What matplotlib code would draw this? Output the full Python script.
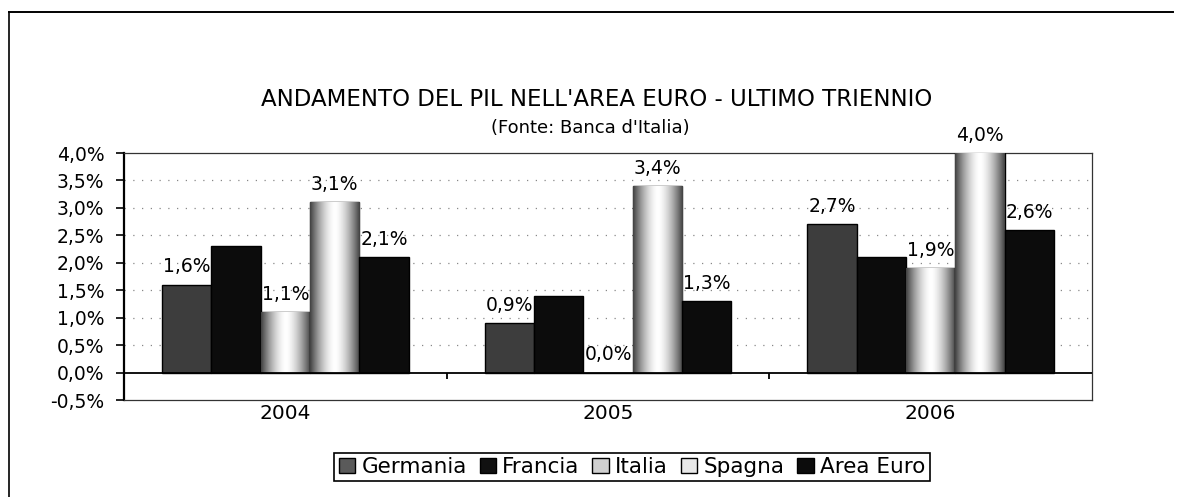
import numpy as np
import matplotlib
matplotlib.use("Agg")
import matplotlib.pyplot as plt
from matplotlib.patches import Patch
from matplotlib.lines import Line2D
from matplotlib.ticker import FuncFormatter, MultipleLocator

# data (GDP growth, %)
years = ["2004", "2005", "2006"]
countries = ["Germania", "Francia", "Italia", "Spagna", "Area Euro"]
germania = [1.6, 0.9, 2.7]
francia = [2.3, 1.4, 2.1]
italia = [1.1, 0.0, 1.9]
spagna = [3.1, 3.4, 4.0]
area_euro = [2.1, 1.3, 2.6]
# Francia labels are not shown in the original
show_labels = [True, False, True, True, True]

series = [germania, francia, italia, spagna, area_euro]
colors = ["#3d3d3d", "#0c0c0c", None, None, "#0c0c0c"]
legend_colors = ["#5a5a5a", "#111111", "#d0d0d0", "#e8e8e8", "#0c0c0c"]


def pct(v, _=None):
    return f"{v:.1f}%".replace(".", ",")


fig = plt.figure(figsize=(11.81, 4.97), dpi=100)
ax = fig.add_axes([124 / 1181, 1 - 400 / 497, (1092 - 124) / 1181, (400 - 153) / 497])

x = np.arange(len(years))
width = 0.153

# gradient used for the "cylinder" look of Italia and Spagna
prof = np.linspace(-1, 1, 200)
grad = (1 - 0.75 * np.abs(prof) ** 1.6)[None, :]

for i, (name, vals) in enumerate(zip(countries, series)):
    pos = x + (i - 2) * width
    if colors[i] is None:
        bars = ax.bar(pos, vals, width, facecolor="none", edgecolor="black",
                      linewidth=1.0, zorder=3)
        for b in bars:
            bx, by = b.get_x(), b.get_y()
            h = b.get_height()
            if h <= 0:
                continue
            im = ax.imshow(grad, cmap="gray", vmin=0, vmax=1, aspect="auto",
                           extent=(bx, bx + b.get_width(), by, by + h),
                           zorder=3, interpolation="bilinear")
            im.set_clip_path(b)
    else:
        bars = ax.bar(pos, vals, width, color=colors[i], edgecolor="black",
                      linewidth=1.0, zorder=3)
    if show_labels[i]:
        for p, v in zip(pos, vals):
            ax.annotate(pct(v), (p, v), xytext=(0, 6), textcoords="offset points",
                        ha="center", va="bottom", fontsize=13.5, zorder=3,
                        annotation_clip=False)

ax.set_xlim(-0.5, len(years) - 0.5)
ax.set_ylim(-0.5, 4.0)
ax.yaxis.set_major_locator(MultipleLocator(0.5))
ax.yaxis.set_major_formatter(FuncFormatter(pct))
ax.tick_params(axis="y", labelsize=13.5, length=6, width=1.2, direction="out", pad=8)

ax.set_xticks(x)
ax.set_xticklabels(years, fontsize=14.5)
ax.tick_params(axis="x", length=0, pad=3)

# dotted gridlines
for yv in np.arange(0.5, 4.0, 0.5):
    ax.axhline(yv, color="#888888", linestyle=(0, (1, 6)), linewidth=0.9, zorder=1)

# zero line with category separator ticks
ax.axhline(0, color="black", linewidth=1.3, zorder=4)
ax.vlines(np.arange(0.5, len(years) - 0.5, 1.0), -0.11, 0, color="black",
          linewidth=1.3, zorder=4)

for side in ["top", "right", "bottom"]:
    ax.spines[side].set_linewidth(0.9)
    ax.spines[side].set_color("#333333")
ax.spines["left"].set_linewidth(1.6)
ax.set_facecolor("white")

fig.text(597 / 1181, 1 - 100 / 497, "ANDAMENTO DEL PIL NELL'AREA EURO - ULTIMO TRIENNIO",
         ha="center", va="center", fontsize=16.5)
fig.text(590 / 1181, 1 - 128 / 497, "(Fonte: Banca d'Italia)",
         ha="center", va="center", fontsize=13)

handles = [Patch(facecolor=c, edgecolor="black", linewidth=1.0) for c in legend_colors]
leg = fig.legend(handles, countries, loc="center", ncol=5,
                 bbox_to_anchor=(632 / 1181, 1 - 467 / 497),
                 fontsize=15.5, frameon=True, fancybox=False, framealpha=1,
                 handlelength=0.75, handleheight=0.75, handletextpad=0.3,
                 columnspacing=0.6, borderpad=0.2, borderaxespad=0)
leg.get_frame().set_edgecolor("black")
leg.get_frame().set_linewidth(1.2)

# outer chart frame (left and top edges visible in the scan)
fig.add_artist(Line2D([9 / 1181, 9 / 1181], [0, 1 - 12 / 497], color="black",
                      linewidth=1.2, transform=fig.transFigure))
fig.add_artist(Line2D([9 / 1181, 1173 / 1181], [1 - 12 / 497, 1 - 12 / 497],
                      color="black", linewidth=1.4, transform=fig.transFigure))

fig.savefig("out.png", dpi=100)
